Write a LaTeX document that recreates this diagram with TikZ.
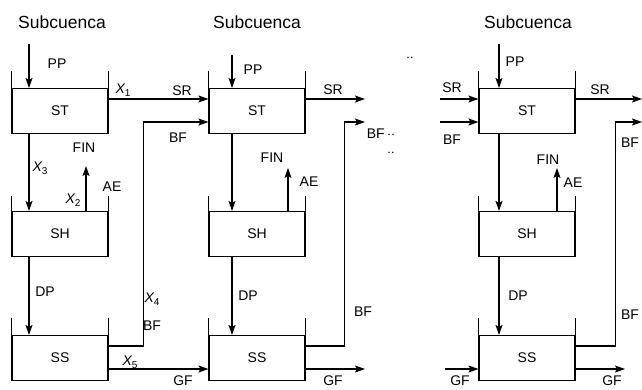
\documentclass[tikz,border=0pt]{standalone}
\usepackage{fontspec}
\setmainfont{Liberation Sans}
\usetikzlibrary{arrows.meta}
\newcommand\Xsub[1]{\textit{X}\kern-0.5pt\raisebox{-3pt}{\fontsize{10}{10}\selectfont #1}}
\begin{document}
\begin{tikzpicture}[x=1pt,y=-1pt,
  tank/.style={draw, line width=1.1pt, minimum width=96pt, minimum height=45pt, inner sep=0pt, font=\fontsize{14}{14}\selectfont},
  lbl/.style={inner sep=0pt, font=\fontsize{14}{14}\selectfont},
  head/.style={inner sep=0pt, font=\fontsize{17.5}{17.5}\selectfont},
  flow/.style={line width=1.1pt, -{Stealth[length=10pt,width=7pt,inset=2pt]}},
  wall/.style={line width=1.1pt}]
\useasboundingbox (0,0) rectangle (642,389);

% tanks
\foreach \c/\x in {1/60,2/257,3/527}{
  \node[tank] (st\c) at (\x,111) {ST};
  \node[tank] (sh\c) at (\x,234) {SH};
  \node[tank] (ss\c) at (\x,358) {SS};
  \draw[wall] (st\c.north west) -- ++(0,-17);
  \draw[wall] (st\c.north east) -- ++(0,-17);
  \draw[wall] (sh\c.north west) -- ++(0,-15);
  \draw[wall] (sh\c.north east) -- ++(0,-15);
  \draw[wall] (ss\c.north west) -- ++(0,-17);
  \draw[wall] (ss\c.north east) -- ++(0,-17);
}

% headings
\node[head] (h1) at (62,22) {Subcuenca};
\node[head] (h2) at (257,22) {Subcuenca};
\node[head] (h3) at (528,22) {Subcuenca};

% free ends
\coordinate (pp1) at (29,44);
\coordinate (pp2) at (232,55);
\coordinate (pp3) at (499,44);
\coordinate (ae1) at (86,166);
\coordinate (ae2) at (288,168);
\coordinate (ae3) at (557,168);
\coordinate (sro2) at (365,99);
\coordinate (bfo2) at (365,122);
\coordinate (gfo2) at (365,369);
\coordinate (sri3) at (440,99);
\coordinate (bfi3) at (440,122);
\coordinate (gfi3) at (445,369);
\coordinate (sro3) at (642,99);
\coordinate (bfo3) at (642,122);
\coordinate (gfo3) at (625,369);

% column 1
\draw[flow] (pp1) -- (pp1 |- st1.north);
\draw[flow] (st1.south -| pp1) -- (sh1.north -| pp1);
\draw[flow] (sh1.south -| pp1) -- (ss1.north -| pp1);
\draw[flow] (sh1.north -| ae1) -- (ae1);
\draw[flow] ([yshift=12pt]st1.east) -- ([yshift=12pt]st2.west);
\draw[flow] ([yshift=12pt]ss1.east) -- ++(35,0) |- ([yshift=-11pt]st2.west);
\draw[flow] ([yshift=-11pt]ss1.east) -- ([yshift=-11pt]ss2.west);

% column 2
\draw[flow] (pp2) -- (pp2 |- st2.north);
\draw[flow] (st2.south -| pp2) -- (sh2.north -| pp2);
\draw[flow] (sh2.south -| pp2) -- (ss2.north -| pp2);
\draw[flow] (sh2.north -| ae2) -- (ae2);
\draw[flow] ([yshift=12pt]st2.east) -- (sro2);
\draw[flow] ([yshift=12pt]ss2.east) -- ++(39,0) |- (bfo2);
\draw[flow] ([yshift=-11pt]ss2.east) -- (gfo2);

% column 3
\draw[flow] (sri3) -- ([yshift=12pt]st3.west);
\draw[flow] (bfi3) -- ([yshift=-11pt]st3.west);
\draw[flow] (gfi3) -- ([yshift=-11pt]ss3.west);
\draw[flow] (pp3) -- (pp3 |- st3.north);
\draw[flow] (st3.south -| pp3) -- (sh3.north -| pp3);
\draw[flow] (sh3.south -| pp3) -- (ss3.north -| pp3);
\draw[flow] (sh3.north -| ae3) -- (ae3);
\draw[flow] ([yshift=12pt]st3.east) -- (sro3);
\draw[flow] ([yshift=12pt]ss3.east) -- ++(40,0) |- (bfo3);
\draw[flow] ([yshift=-11pt]ss3.east) -- (gfo3);

% labels column 1
\node[lbl] (a1) at (57,64) {PP};
\node[lbl] (a2) at (123,90) {\Xsub{1}};
\node[lbl] (a3) at (182,91) {SR};
\node[lbl] (a4) at (178,138) {BF};
\node[lbl] (a5) at (84,148) {FIN};
\node[lbl] (a6) at (40,168) {\Xsub{3}};
\node[lbl] (a7) at (73,200) {\Xsub{2}};
\node[lbl] (a8) at (112,187) {AE};
\node[lbl] (a9) at (45,292) {DP};
\node[lbl] (a10) at (152,299) {\Xsub{4}};
\node[lbl] (a11) at (152,326) {BF};
\node[lbl] (a12) at (130,362) {\Xsub{5}};
\node[lbl] (a13) at (183,381) {GF};

% labels column 2
\node[lbl] (b1) at (253,70) {PP};
\node[lbl] (b2) at (333,90) {SR};
\node[lbl] (b3) at (381,134) {BF\,$\cdot\cdot$};
\node[lbl] (b4) at (410,58) {$\cdot\cdot$};
\node[lbl] (b5) at (391,153) {$\cdot\cdot$};
\node[lbl] (b6) at (272,158) {FIN};
\node[lbl] (b7) at (309,182) {AE};
\node[lbl] (b8) at (248,296) {DP};
\node[lbl] (b9) at (363,312) {BF};
\node[lbl] (b10) at (333,381) {GF};

% labels column 3
\node[lbl] (c1) at (515,62) {PP};
\node[lbl] (c2) at (452,88) {SR};
\node[lbl] (c3) at (452,140) {BF};
\node[lbl] (c4) at (600,90) {SR};
\node[lbl] (c5) at (630,143) {BF};
\node[lbl] (c6) at (548,160) {FIN};
\node[lbl] (c7) at (573,183) {AE};
\node[lbl] (c8) at (518,296) {DP};
\node[lbl] (c9) at (630,315) {BF};
\node[lbl] (c10) at (460,381) {GF};
\node[lbl] (c11) at (612,381) {GF};
\end{tikzpicture}
\end{document}
